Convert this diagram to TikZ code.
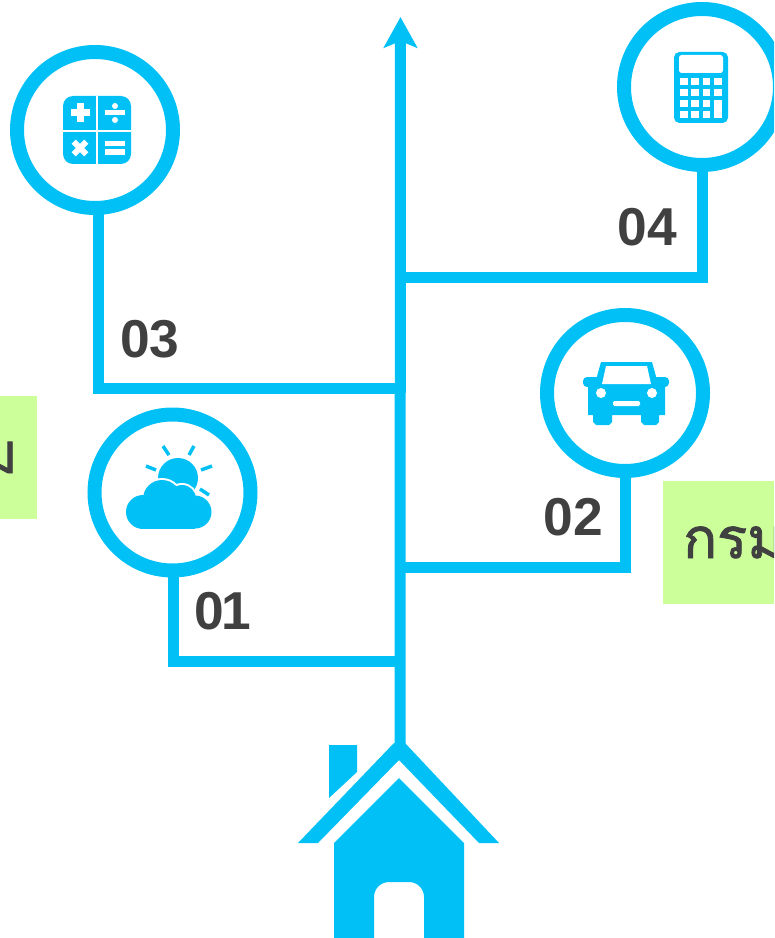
\documentclass[tikz,border=0pt]{standalone}
\usepackage{fontspec}
\setsansfont{Liberation Sans}
\newfontfamily\thaifont[Script=Thai,FakeBold=1.6]{Loma}
\usetikzlibrary{arrows.meta}
\definecolor{skyblue}{HTML}{00C0F6}
\definecolor{labelgray}{HTML}{404040}
\definecolor{notegreen}{HTML}{CCFF99}
\tikzset{
 ring/.style={circle,draw=skyblue,line width=10.5pt,minimum size=117pt,inner sep=0pt},
 branch/.style={draw=skyblue,line width=8.25pt},
 stepno/.style={text=labelgray,inner sep=0pt,font=\sffamily\bfseries\fontsize{40}{48}\selectfont},
 thainote/.style={text=labelgray,inner sep=0pt,font=\thaifont\fontsize{42}{50}\selectfont},
 cutout/.style={fill=white,draw=none}
}
\begin{document}
\begin{tikzpicture}
\begin{scope}[x=0.75pt,y=-0.75pt]
\clip (0,0) rectangle (774,938);

% green notes
\fill[notegreen] (0,396) rectangle (37,519);
\fill[notegreen] (663,481) rectangle (774,604);
\node[thainote,anchor=base east] (noteleft) at (18,473) {ม};
\node[thainote,anchor=base west] (noteright) at (683,558) {กรม};

% rings
\node[ring] (ring01) at (172.5,492.5) {};
\node[ring] (ring02) at (625,393) {};
\node[ring] (ring03) at (95,130) {};
\node[ring] (ring04) at (702,87) {};

% trunk and branches
\coordinate (home) at (400,750);
\coordinate (tip) at (400.5,17);
\coordinate (join01) at (400,661);
\coordinate (join02) at (395,567);
\coordinate (join03) at (400,388);
\coordinate (join04) at (395,277);
\draw[branch,-{Stealth[length=23pt,width=25pt,inset=5pt]}] (home) -- (tip);
\draw[branch] (ring01.south) ++(0.5,-3) |- (join01);
\draw[branch] (ring02.south) ++(0.5,-3) |- (join02);
\draw[branch] (ring03.south) ++(3,-3) |- (join03);
\draw[branch] (ring04.south) ++(0,-3) |- (join04);

% step numbers
\node[stepno] (no01) at (223,611) {0\kern-2pt 1};
\node[stepno] (no02) at (573,517) {02};
\node[stepno] (no03) at (150,339) {03};
\node[stepno] (no04) at (647,227) {04};

% house
\fill[skyblue] (329,745) -- (357,745) -- (357,772) -- (329,798) -- cycle;
\fill[skyblue] (394,743) -- (298,843) -- (318,843) -- (399,760)
 -- (479,843) -- (499,843) -- (405,743) -- cycle;
\fill[skyblue] (399,778) -- (464,843) -- (464,938) -- (424,938) -- (424,897)
 arc (0:-90:15) -- (389,882) arc (-90:-180:15) -- (374,938) -- (334,938) -- (334,843) -- cycle;

% cloud icon
\fill[skyblue] (178,478) circle(20);
\draw[skyblue,line width=2.6pt] (163,446) -- (169,455);
\draw[skyblue,line width=2.6pt] (194,446) -- (189,455);
\draw[skyblue,line width=2.6pt] (146,466) -- (156,470);
\draw[skyblue,line width=2.6pt] (212,466) -- (201,470);
\draw[skyblue,line width=2.6pt] (200,489) -- (209,495);
\draw[white,line width=3pt,fill=white] (143,512) circle(17) (162,499) circle(19) (182,499) circle(14) (195,512) circle(16.5);
\fill[skyblue] (143,512) circle(17) (162,499) circle(19) (182,499) circle(14) (195,512) circle(16.5);
\fill[skyblue] (143,505) rectangle (195,529);

% car icon
\fill[skyblue] (601,362) -- (652,362) -- (657,380) -- (665,385) -- (665,415)
 -- (659,415) -- (659,422) -- (656,425) -- (644,425) -- (641,422) -- (641,415)
 -- (612,415) -- (612,422) -- (609,425) -- (596,425) -- (593,422) -- (593,415)
 -- (588,415) -- (588,385) -- (596,380) -- cycle;
\fill[skyblue,rounded corners=3pt] (583,377) rectangle (600,387);
\fill[skyblue,rounded corners=3pt] (652,377) rectangle (669,387);
\fill[cutout] (606,366) -- (647,366) -- (651,384) -- (602,384) -- cycle;
\fill[cutout] (601,393) circle(5);
\fill[cutout] (652,393) circle(5);
\fill[cutout,rounded corners=1pt] (613,401) rectangle (640,406);

% tile icon
\fill[skyblue,rounded corners=7.5pt] (63,96) rectangle (131,164);
\fill[cutout] (96.4,96) rectangle (97.6,164);
\fill[cutout] (63,130.4) rectangle (131,131.6);
\fill[cutout] (70.5,109.5) rectangle (89.5,116.5);
\fill[cutout] (76.5,103.5) rectangle (83.5,122.5);
\fill[cutout] (105,110.5) rectangle (125,115.5);
\fill[cutout] (115,106) circle(3);
\fill[cutout] (115,120) circle(3);
\fill[cutout,rotate around={45:(80,148)}] (71,145) rectangle (89,151);
\fill[cutout,rotate around={45:(80,148)}] (77,139) rectangle (83,157);
\fill[cutout] (105,141) rectangle (125,146);
\fill[cutout] (105,149) rectangle (125,155);

% calculator icon
\fill[skyblue,rounded corners=4pt] (674,52) rectangle (728,123);
\fill[cutout,rounded corners=2pt] (679,55) rectangle (723,73);
\fill[cutout] (680,78) rectangle (688,85);
\fill[cutout] (691,78) rectangle (699,85);
\fill[cutout] (703,78) rectangle (710,85);
\fill[cutout] (714,78) rectangle (722,85);
\fill[cutout] (680,89) rectangle (688,96);
\fill[cutout] (691,89) rectangle (699,96);
\fill[cutout] (703,89) rectangle (710,96);
\fill[cutout] (714,89) rectangle (722,96);
\fill[cutout] (680,100) rectangle (688,107);
\fill[cutout] (691,100) rectangle (699,107);
\fill[cutout] (703,100) rectangle (710,107);
\fill[cutout] (714,100) rectangle (722,118);
\fill[cutout] (680,111) rectangle (688,118);
\fill[cutout] (691,111) rectangle (699,118);
\fill[cutout] (703,111) rectangle (710,118);
\end{scope}
\end{tikzpicture}
\end{document}
